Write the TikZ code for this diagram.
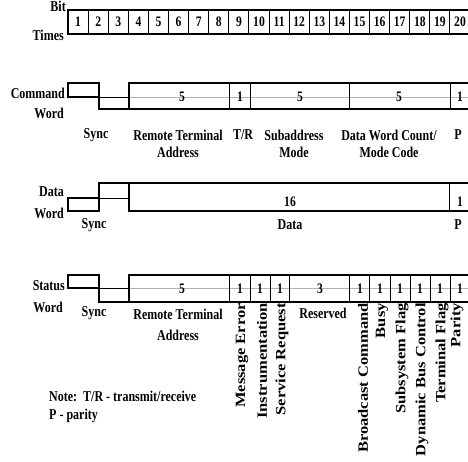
\documentclass[tikz,border=0pt]{standalone}
\usepackage{fontspec}
\setmainfont{Liberation Serif}
\usepackage{graphicx}
\newcommand{\nx}[1]{\scalebox{0.8}[1]{#1}}
\newcommand{\ny}[1]{\scalebox{1}[0.86]{#1}}
\begin{document}
\begin{tikzpicture}[x=1pt,y=-1pt,
  lbl/.style={inner sep=0pt,font=\fontsize{15}{17}\selectfont\bfseries},
  num/.style={inner sep=0pt,font=\fontsize{14.5}{16}\selectfont\bfseries},
  rot/.style={inner sep=0pt,rotate=90,anchor=east,font=\fontsize{16.5}{18}\selectfont\bfseries},
  thk/.style={line width=1.6pt},
  dv/.style={line width=1pt},
  mid/.style={line width=0.6pt,black!30}]
\clip (0,0) rectangle (468,461);
\fill[white] (0,0) rectangle (468,461);

% ---------- Bit times ----------
\draw[thk] (68,10) rectangle (472,34);
\foreach \k in {1,...,19} \draw[dv] ({68+20.1*\k},10) -- ({68+20.1*\k},34);
\foreach \k in {1,...,20} \node[num] (b\k) at ({68+20.1*\k-10},22) {\nx{\k}};
\node[lbl,anchor=east] (bit) at (66,6) {\nx{Bit}};
\node[lbl,anchor=east] (times) at (64,35) {\nx{Times}};

% ---------- Command word ----------
\draw[thk] (68,83) rectangle (99,97);
\draw[thk] (99,97) -- (99,109) -- (472,109);
\draw[dv] (99,97) -- (129,97);
\draw[mid] (129,97) -- (472,97);
\draw[thk] (129,109) -- (129,83) -- (472,83);
\foreach \x in {229,250,349,450} \draw[dv] (\x,83) -- (\x,109);
\node[num] (c1) at (182,97) {\nx{5}};
\node[num] (c2) at (240,97) {\nx{1}};
\node[num] (c3) at (300,97) {\nx{5}};
\node[num] (c4) at (399,97) {\nx{5}};
\node[num] (c5) at (460,97) {\nx{1}};
\node[lbl,anchor=east] (cmd) at (65,93) {\nx{Command}};
\node[lbl,anchor=east] (cmdw) at (64,113) {\nx{Word}};
\node[lbl] (csync) at (96,135) {\nx{Sync}};
\node[lbl] (crt) at (178,135) {\nx{Remote Terminal}};
\node[lbl] (crta) at (178,152) {\nx{Address}};
\node[lbl] (ctr) at (243,135) {\nx{T/R}};
\node[lbl] (csa) at (294,135) {\nx{Subaddress}};
\node[lbl] (csam) at (294,152) {\nx{Mode}};
\node[lbl] (cdc) at (389,135) {\nx{Data Word Count/}};
\node[lbl] (cdcm) at (389,152) {\nx{Mode Code}};
\node[lbl] (cp) at (458,135) {\nx{P}};

% ---------- Data word ----------
\draw[thk] (68,198) rectangle (99,211);
\draw[thk] (99,211) -- (99,183) -- (472,183);
\draw[dv] (99,198) -- (129,198);
\draw[thk] (129,183) -- (129,211) -- (472,211);
\draw[dv] (449,183) -- (449,211);
\node[num] (d1) at (290,202) {\nx{16}};
\node[num] (d2) at (460,202) {\nx{1}};
\node[lbl,anchor=east] (dat) at (64,192) {\nx{Data}};
\node[lbl,anchor=east] (datw) at (64,213) {\nx{Word}};
\node[lbl] (dsync) at (94,225) {\nx{Sync}};
\node[lbl] (ddata) at (290,225) {\nx{Data}};
\node[lbl] (dp) at (458,225) {\nx{P}};

% ---------- Status word ----------
\draw[thk] (68,275) rectangle (99,288);
\draw[thk] (99,288) -- (99,302) -- (472,302);
\draw[dv] (99,288) -- (129,288);
\draw[mid] (129,288) -- (472,288);
\draw[thk] (129,302) -- (129,275) -- (472,275);
\foreach \x in {229,250,270,289,349,369,390,410,430,450} \draw[dv] (\x,275) -- (\x,302);
\node[num] (s1) at (182,289) {\nx{5}};
\foreach \x/\n in {240/a,260/b,280/c,360/d,380/e,400/f,420/g,440/h,460/i}
  \node[num] (s\n) at (\x,289) {\nx{1}};
\node[num] (s3) at (320,289) {\nx{3}};
\node[lbl,anchor=east] (sta) at (65,286) {\nx{Status}};
\node[lbl,anchor=east] (staw) at (63,307) {\nx{Word}};
\node[lbl] (ssync) at (94,313) {\nx{Sync}};
\node[lbl] (srt) at (178,314) {\nx{Remote Terminal}};
\node[lbl] (srta) at (178,335) {\nx{Address}};
\node[lbl] (sres) at (323,313) {\nx{Reserved}};
\node[rot] (r1) at (242,303) {\ny{Message Error}};
\node[rot] (r2) at (262,303) {\ny{Instrumentation}};
\node[rot] (r3) at (282,303) {\ny{Service Request}};
\node[rot] (r4) at (363,303) {\ny{Broadcast Command}};
\node[rot] (r5) at (382,303) {\ny{Busy}};
\node[rot] (r6) at (402,303) {\ny{Subsystem Flag}};
\node[rot] (r7) at (422,303) {\ny{Dynamic Bus Control}};
\node[rot] (r8) at (442,303) {\ny{Terminal Flag}};
\node[rot] (r9) at (457,303) {\ny{Parity}};

% ---------- Note ----------
\node[lbl,anchor=west] (note) at (49,396) {\nx{Note:\ \ T/R - transmit/receive}};
\node[lbl,anchor=west] (note2) at (49,416) {\nx{P - parity}};
\end{tikzpicture}
\end{document}
